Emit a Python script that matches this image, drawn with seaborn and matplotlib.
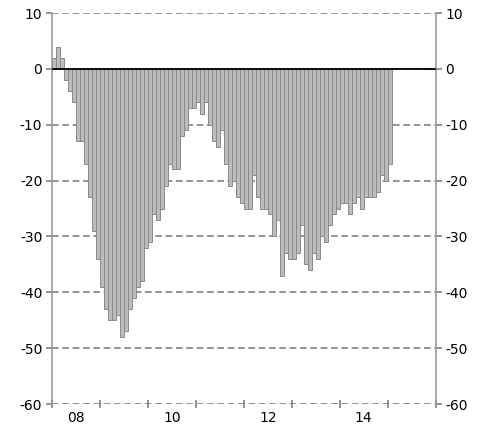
import matplotlib
matplotlib.use("Agg")
import matplotlib.pyplot as plt
import seaborn as sns
import pandas as pd
import numpy as np

# Monthly values, Jan 2008 .. Jan 2015
values = [2, 4, 2, -2, -4, -6, -13, -13, -17, -23, -29, -34,
          -39, -43, -45, -45, -44, -48, -47, -43, -41, -39, -38, -32,
          -31, -26, -27, -25, -21, -17, -18, -18, -12, -11, -7, -7,
          -6, -8, -6, -10, -13, -14, -11, -17, -21, -20, -23, -24,
          -25, -25, -19, -23, -25, -25, -26, -30, -27, -37, -33, -34,
          -34, -33, -28, -35, -36, -33, -34, -30, -31, -28, -26, -25,
          -24, -24, -26, -24, -23, -25, -23, -23, -23, -22, -19, -20,
          -17]
first_year = 2008
last_year = 2016
year_labels = ["08", "10", "12", "14"]
y_ticks = [10, 0, -10, -20, -30, -40, -50, -60]

df = pd.DataFrame({"month": list(range(len(values))), "value": values})

sns.set_theme(style="white")
plt.rcParams['font.family'] = ['DejaVu Sans']

fig = plt.figure(figsize=(4.78, 4.28), dpi=100)
ax = fig.add_axes([52/478, 1 - 404/428, (435.6 - 52)/478, (404 - 13)/428])

sns.barplot(data=df, x="month", y="value", ax=ax, color="#bcbcbc",
            saturation=1, width=1.0, edgecolor="#8a8a8a", linewidth=0.7,
            zorder=2)

n_months = (last_year - first_year) * 12
ax.set_xlim(-0.5, n_months - 0.5)
ax.set_ylim(-60, 10)

ax.axhline(0, color="black", lw=1.3, zorder=4)

ax.set_yticks(y_ticks)
ax.set_yticklabels([str(v) for v in y_ticks])
ax.yaxis.grid(True, linestyle=(0, (4, 2.2)), color="#808080", lw=1.2)
ax.xaxis.grid(False)
ax.set_axisbelow(True)

# year boundary ticks (major), labels at mid-year (minor)
ax.set_xticks([-0.5 + 12 * k for k in range(last_year - first_year + 1)])
ax.set_xticklabels([])
ax.set_xticks([5.5 + 24 * k for k in range(len(year_labels))], minor=True)
ax.set_xticklabels(year_labels, minor=True)
ax.tick_params(axis="x", which="major", direction="inout", length=6,
               color="#808080", width=1.2, bottom=True)
ax.tick_params(axis="x", which="minor", length=0, labelsize=10, pad=5,
               labelcolor="black")
ax.tick_params(axis="y", which="major", direction="out", length=4,
               color="#808080", width=1.2, left=True, right=True,
               labelleft=True, labelright=True, labelsize=10, pad=3,
               labelcolor="black")

for side in ["left", "right"]:
    ax.spines[side].set_visible(True)
    ax.spines[side].set_color("#999999")
    ax.spines[side].set_linewidth(1.2)
ax.spines["top"].set_visible(False)
ax.spines["bottom"].set_visible(False)

ax.set_xlabel("")
ax.set_ylabel("")

fig.savefig("out.png", dpi=100)
